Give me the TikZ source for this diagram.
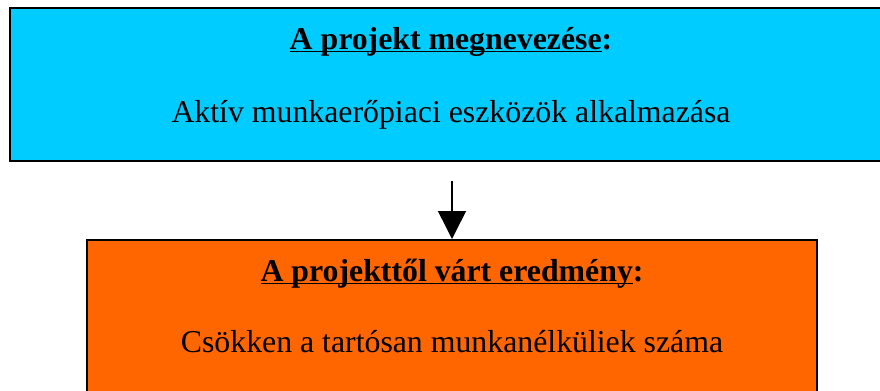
\documentclass[tikz,border=0pt]{standalone}
\usepackage{fontspec}
\setmainfont{Liberation Serif}
\usetikzlibrary{arrows.meta}
\definecolor{boxcyan}{HTML}{00CCFF}
\definecolor{boxorange}{HTML}{FF6600}
\newcommand\myul[1]{\setbox0\hbox{#1}\rlap{\rule[-3bp]{\wd0}{1.4bp}}\box0}
\tikzset{
  panel/.style={draw=black, line width=2bp, rectangle, inner sep=0pt},
  headtxt/.style={anchor=base, inner sep=0pt, font=\fontsize{31.8bp}{38bp}\selectfont\bfseries},
  bodytxt/.style={anchor=base, inner sep=0pt, font=\fontsize{31.8bp}{38bp}\selectfont},
  flow/.style={line width=1.6bp, -{Triangle[width=28bp,length=28bp]}}
}
\begin{document}
\begin{tikzpicture}[x=1bp,y=-1bp]
\useasboundingbox (0,0) rectangle (880,390);
\clip (0,0) rectangle (880,390);
\node[panel, fill=boxcyan, minimum width=882bp, minimum height=153bp] (top) at (451,84.5) {};
\node[panel, fill=boxorange, minimum width=730bp, minimum height=170bp] (bot) at (452,325) {};
\node[headtxt] (th) at (451,49) {\myul{A projekt megnevezése}:};
\node[bodytxt] (tb) at (451,122) {Aktív munkaerőpiaci eszközök alkalmazása};
\node[headtxt] (bh) at (452,281) {\myul{A projekttől várt eredmény}:};
\node[bodytxt] (bb) at (452,352) {Csökken a tartósan munkanélküliek száma};
\coordinate (astart) at (452,181);
\draw[flow] (astart) -- (bot.north);
\end{tikzpicture}
\end{document}
